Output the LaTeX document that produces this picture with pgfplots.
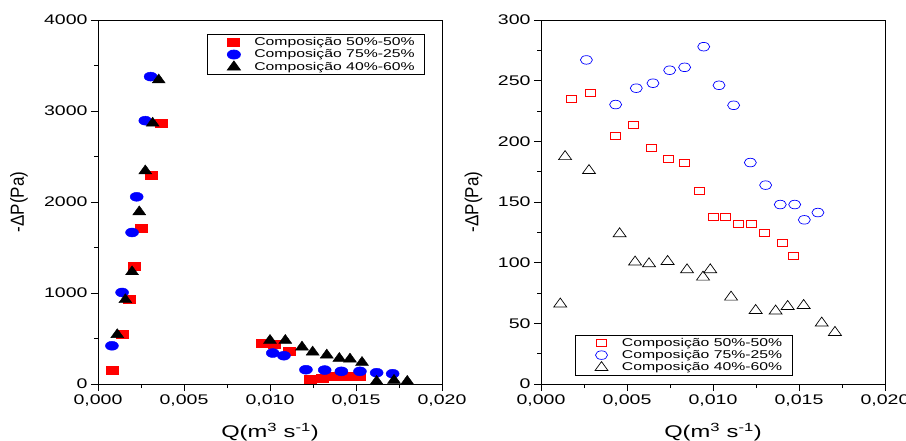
\documentclass[border=0pt]{standalone}
\usepackage{fontspec}
\setmainfont{Liberation Sans}[FakeStretch=1.4]
\newfontfamily\ylfont{Liberation Sans}[FakeStretch=0.9]
\usepackage{pgfplots}
\pgfplotsset{compat=1.18}
\begin{document}
\begin{tikzpicture}
\pgfplotsset{myax/.style={
  width=344bp, height=364bp, scale only axis,
  xmin=0, xmax=0.02, xtick={0,0.005,0.01,0.015,0.02},
  minor x tick num=1, minor y tick num=1,
  scaled x ticks=false, scaled y ticks=false,
  /pgf/number format/assume math mode=true,
  xticklabel style={/pgf/number format/.cd, fixed, fixed zerofill, precision=3, use comma},
  yticklabel style={/pgf/number format/.cd, 1000 sep={}},
  tick align=outside, xtick pos=bottom, ytick pos=left,
  major tick length=7bp, minor tick length=4bp,
  axis line style={line width=0.8pt},
  every tick/.style={line width=0.8pt, black},
  tick label style={font=\fontsize{14}{16}\selectfont},
  xlabel={Q(m\textsuperscript{3} s\textsuperscript{-1})},
  ylabel={-ΔP(Pa)},
  xlabel style={font=\fontsize{17}{19}\selectfont, at={(axis description cs:0.5,-0.132)}, anchor=center},
  legend style={font=\fontsize{11.3}{12}\selectfont, draw=black, line width=0.8pt, inner xsep=8bp, inner ysep=1.5bp,
    nodes={inner xsep=2bp, inner ysep=1.4bp}},
  legend cell align=left,
}, lg/.style={legend image code/.code={\path (-18bp,0bp) (18bp,0bp); \draw[##1] plot coordinates {(0bp,0bp)};}}}
\begin{axis}[myax, ymin=0, ymax=4000, ytick={0,1000,2000,3000,4000},
  ylabel style={font=\ylfont\fontsize{19}{21}\selectfont, at={(axis description cs:-0.23,0.5)}, anchor=center},
  legend style={at={(0.9506,0.9616)}, anchor=north east}]
\addplot[only marks, lg, mark=square*, color=red, mark size=4bp, mark options={xscale=1.5}] coordinates {
(0.00081,150) (0.00143,552) (0.00182,937) (0.00209,1299) (0.00252,1709) (0.0031,2290) (0.00368,2869)
(0.00954,450) (0.01023,435) (0.01109,358) (0.01236,55) (0.01302,62) (0.01372,84) (0.01446,91) (0.01519,84)
};
\addlegendentry{Composição 50\%-50\%}
\addplot[only marks, lg, mark=*, color=blue, mark size=4.5bp, mark options={xscale=1.45}] coordinates {
(0.00081,420) (0.0014,1006) (0.00198,1665) (0.00225,2057) (0.00275,2894) (0.00306,3378)
(0.01016,340) (0.01081,311) (0.01209,157) (0.01318,153) (0.01415,139) (0.01523,139) (0.0162,124) (0.01713,113)
};
\addlegendentry{Composição 75\%-25\%}
\addplot[only marks, lg, mark=triangle*, color=black, mark size=6bp, mark options={xscale=1.25}] coordinates {
(0.00112,542) (0.00159,926) (0.00198,1233) (0.0024,1892) (0.00275,2342) (0.00318,2866) (0.00353,3341)
(0.0100,479) (0.01089,479) (0.01186,406) (0.01248,351) (0.0133,318) (0.01403,281) (0.01465,274) (0.01535,237)
(0.0162,29) (0.01721,40) (0.01798,29)
};
\addlegendentry{Composição 40\%-60\%}
\end{axis}
\begin{axis}[myax, at={(443bp,0)}, ymin=0, ymax=300, ytick={0,50,100,150,200,250,300},
  ylabel style={font=\ylfont\fontsize{19}{21}\selectfont, at={(axis description cs:-0.196,0.5)}, anchor=center},
  legend style={at={(0.098,0.0228)}, anchor=south west}]
\addplot[only marks, lg, mark=square, color=red, mark size=3.5bp, mark options={xscale=1.43, line width=0.7pt}] coordinates {
(0.00178,234.7) (0.00287,240.1) (0.0043,204.2) (0.00535,213.5) (0.00643,194.8) (0.0074,185.5) (0.00833,182.5)
(0.00922,159.4) (0.0100,137.5) (0.0107,137.5) (0.01147,131.8) (0.01221,131.8) (0.01298,124.3) (0.01403,116.4) (0.01469,105.9)
};
\addlegendentry{Composição 50\%-50\%}
\addplot[only marks, lg, mark=o, color=blue, mark size=4.3bp, mark options={xscale=1.4, line width=0.7pt}] coordinates {
(0.00264,267.1) (0.00434,230.3) (0.00554,243.8) (0.00651,247.9) (0.00748,258.6) (0.00835,261.0) (0.00946,278.0)
(0.01035,246.2) (0.0112,229.7) (0.01217,182.5) (0.01306,163.9) (0.01391,147.9) (0.01475,147.9) (0.01531,135.3) (0.0161,141.3)
};
\addlegendentry{Composição 75\%-25\%}
\addplot[only marks, lg, mark=triangle, color=black, mark size=6bp, mark options={xscale=1.25, line width=0.7pt}] coordinates {
(0.00112,65.9) (0.0014,187.4) (0.00279,175.9) (0.00457,123.8) (0.00547,100.5) (0.00628,99.1) (0.00736,101.0)
(0.00849,94.1) (0.00942,88.1) (0.00984,94.1) (0.01105,71.6) (0.01248,60.6) (0.01364,60.1) (0.01434,63.9)
(0.01527,64.7) (0.01632,50.2) (0.01709,42.5)
};
\addlegendentry{Composição 40\%-60\%}
\end{axis}
\pgfresetboundingbox
\path[use as bounding box] (-98bp,-57bp) rectangle (808bp,384bp);
\end{tikzpicture}
\end{document}
